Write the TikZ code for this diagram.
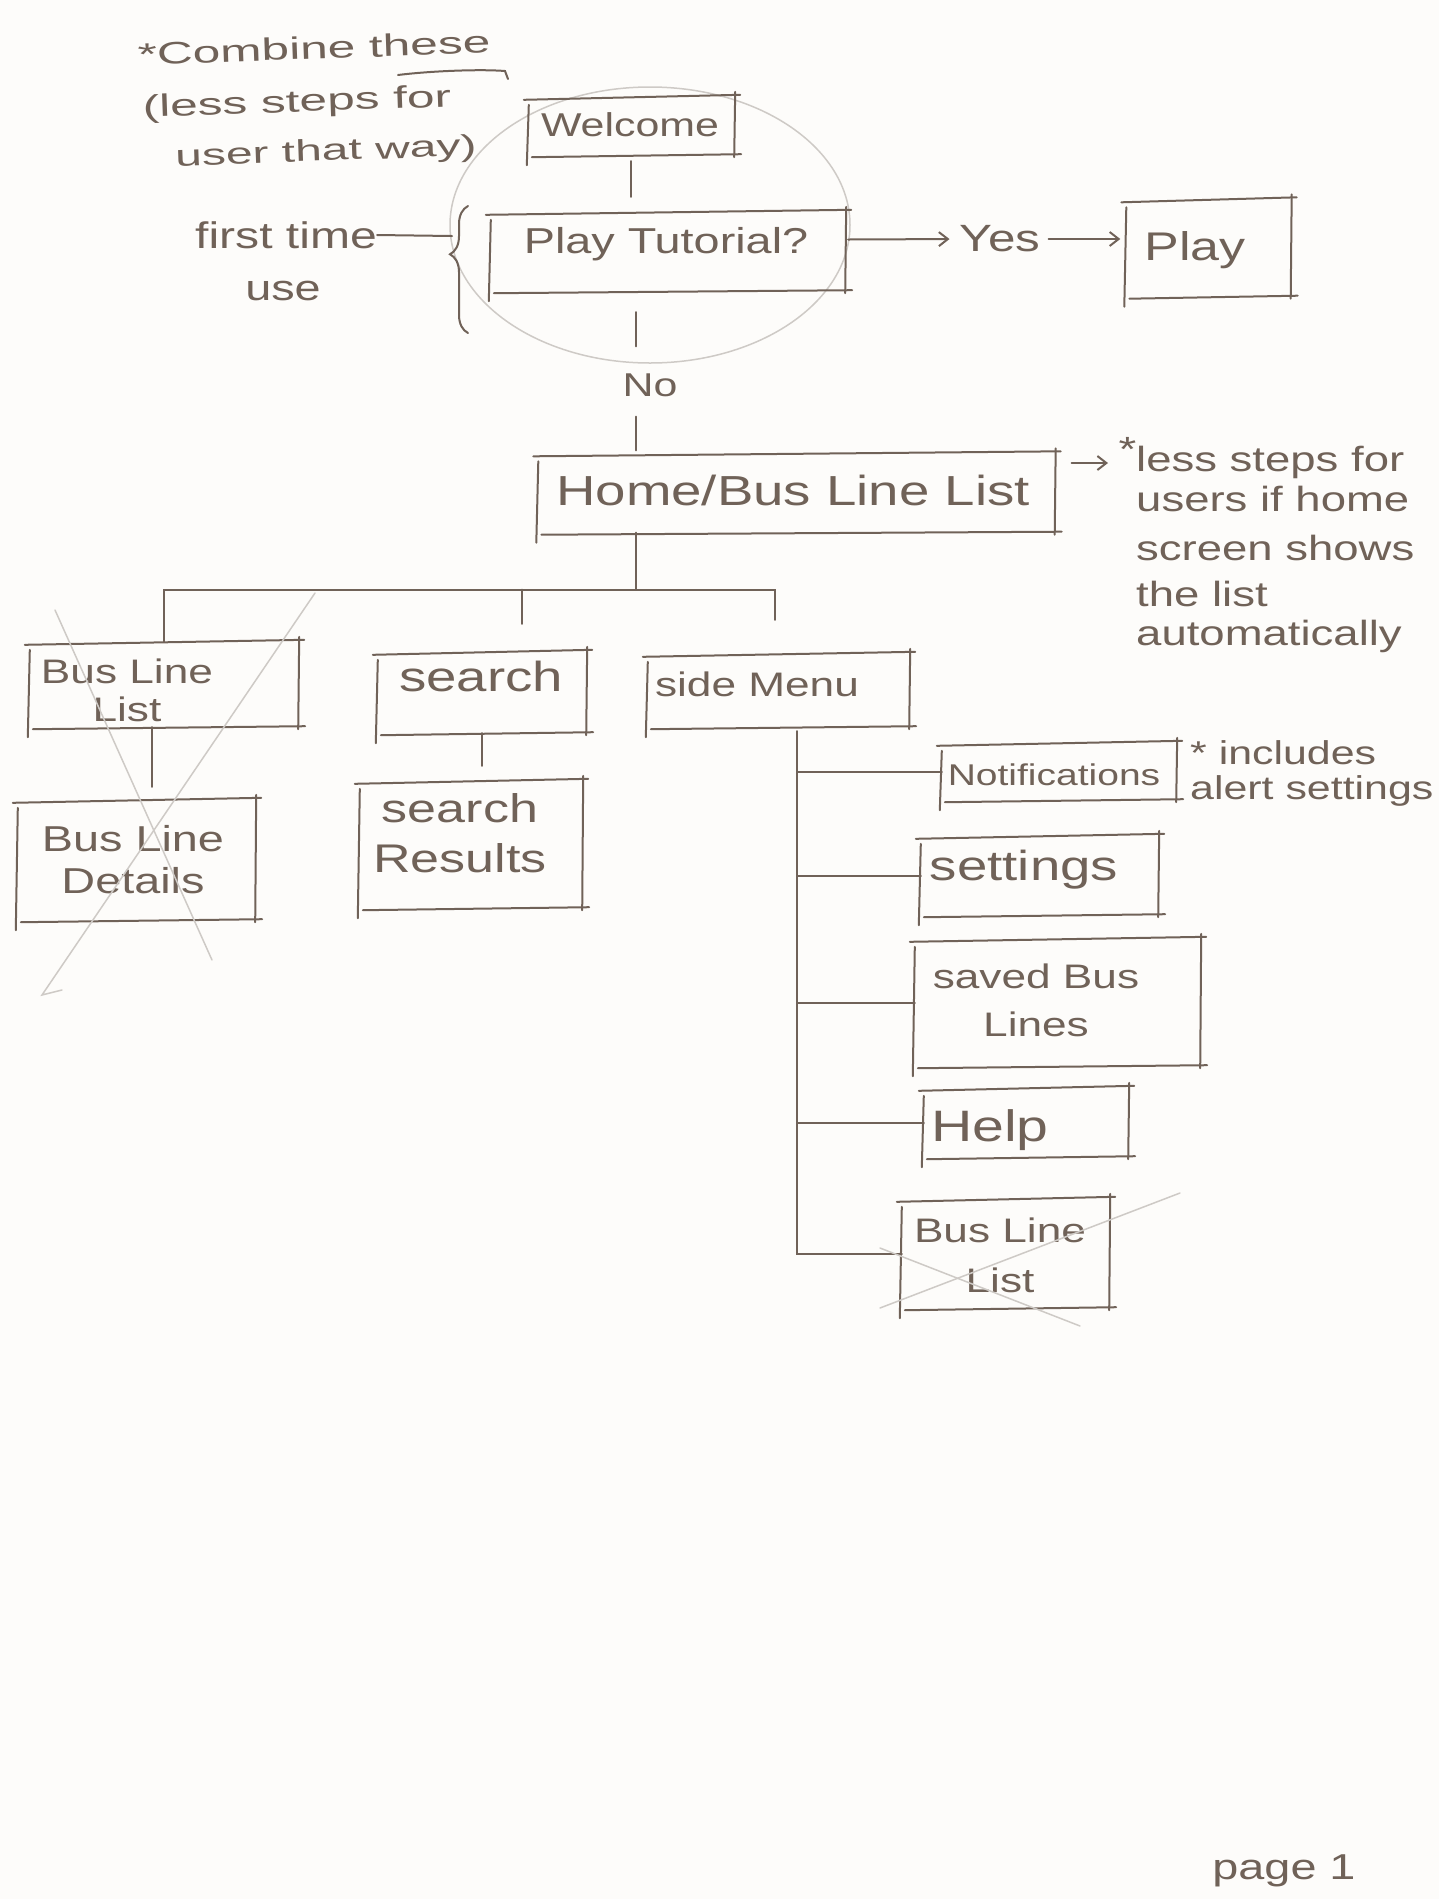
\documentclass[tikz,border=0pt]{standalone}
\usepackage{fontspec}
\newfontfamily\hand{Liberation Sans}[FakeStretch=1.3]
\newfontfamily\handw{Liberation Sans}[FakeStretch=1.6]
\usetikzlibrary{calc,arrows.meta,decorations.pathreplacing}
\definecolor{ink}{RGB}{112,98,88}
\definecolor{faint}{RGB}{206,202,198}
\definecolor{paper}{RGB}{253,252,250}
\tikzset{
  line/.style={draw=ink, line width=2pt, line cap=round},
  faintln/.style={draw=faint, line width=1.5pt, line cap=round},
  txt/.style={text=ink, inner sep=0pt, align=center},
  fz/.style 2 args={font=\hand\fontsize{#1}{#2}\selectfont},
  fzw/.style 2 args={font=\handw\fontsize{#1}{#2}\selectfont},
  boxn/.style={inner sep=0pt, draw=none},
  arr/.style={line, -{Straight Barb[length=9pt,width=14pt]}},
}
\newcommand\mkbox[5]{\node[boxn, minimum width=#4pt, minimum height=#5pt] (#1) at (#2,#3) {};}
\newcommand\skbox[1]{%
  \draw[line] ($(#1.north west)+(-5,3)$) -- ($(#1.north east)+(7,-2)$);
  \draw[line] ($(#1.north east)+(2,-5)$) -- ($(#1.south east)+(1,2)$);
  \draw[line] ($(#1.south west)+(3,2)$) -- ($(#1.south east)+(8,-1)$);
  \draw[line] ($(#1.north west)+(0,8)$) -- ($(#1.south west)+(-2,10)$);
}
\begin{document}
\begin{tikzpicture}[x=1pt,y=-1pt]
\fill[paper] (0,0) rectangle (1439,1899);
\useasboundingbox (0,0) rectangle (1439,1899);

% annotation top-left
\node[txt, fzw={31}{40}, rotate=2] (cmb1) at (314,48) {*Combine these};
\node[txt, fzw={31}{40}, rotate=2] (cmb2) at (297,104) {(less steps for};
\node[txt, fzw={30}{40}, rotate=2] (cmb3) at (326,153) {user that way)};
\draw[line] (398,75) .. controls (430,71) and (480,69) .. (505,71) -- (508,79);
\draw[faintln] (650,225) ellipse [x radius=200, y radius=138];

\node[txt, fz={37}{44}] (ft1) at (286,235) {first time};
\node[txt, fz={36}{44}] (ft2) at (283,291) {use};
\draw[line, decorate, decoration={brace, amplitude=18pt, aspect=0.62}] (468,333) -- (468,206);
\draw[line] (ft1.east) -- (452,236);

% main boxes
\mkbox{welcome}{631}{126}{204}{58}
\mkbox{tut}{667.5}{251.5}{353}{79}
\mkbox{play}{1208}{248}{163}{97}
\mkbox{home}{796}{493}{515}{79}
\mkbox{bll}{163.5}{684.5}{267}{85}
\mkbox{bld}{136}{860}{236}{120}
\mkbox{search}{481.5}{692.5}{207}{81}
\mkbox{sres}{470.5}{844.5}{221}{127}
\mkbox{side}{778}{690.5}{260}{73}
\mkbox{notif}{1058.5}{771.5}{233}{57}
\mkbox{sett}{1039}{875.5}{236}{79}
\mkbox{saved}{1057}{1002.5}{284}{127}
\mkbox{help}{1025.5}{1122.5}{203}{69}
\mkbox{bllb}{1005}{1253.5}{206}{109}
\foreach \b in {welcome,tut,play,home,bll,bld,search,sres,side,notif,sett,saved,help,bllb}{\skbox{\b}}

% texts
\node[txt, fz={33}{40}] (welcomeT) at (630,125) {Welcome};
\node[txt, fz={36}{44}] (tutT) at (666,244) {Play Tutorial?};
\node[txt, fz={38}{44}] (yes) at (1000,239) {Yes};
\node[txt, fz={40}{48}] (playT) at (1195,250) {Play};
\node[txt, fz={33}{40}] (no) at (650,385) {No};
\node[txt, fz={42}{48}] (homeT) at (793,490) {Home/Bus Line List};
\node[txt, fz={34}{38}] (bllT) at (127,690) {Bus Line\\List};
\node[txt, fz={36}{42}] (bldT) at (133,860) {Bus Line\\Details};
\node[txt, fz={42}{48}] (searchT) at (481,676) {search};
\node[txt, fz={40}{50}] (sresT) at (460,833) {search\\Results};
\node[txt, fz={34}{40}] (sideT) at (757,684) {side Menu};
\node[txt, fz={30}{36}] (notifT) at (1054,775) {Notifications};
\node[txt, fz={42}{48}] (settT) at (1024,870) {settings};
\node[txt, fz={34}{48}] (savedT) at (1036,1000) {saved Bus\\Lines};
\node[txt, fz={44}{50}] (helpT) at (990,1130) {Help};
\node[txt, fz={34}{50}] (bllbT) at (1000,1255) {Bus Line\\List};
\node[txt, fz={36}{44}] (page) at (1284,1871) {page 1};

% right notes
\node[txt, fz={35}{44}, anchor=west] (n1) at (1136,458) {\llap{\raisebox{0.5ex}{*}}less steps for};
\node[txt, fz={35}{44}, anchor=west] (n2) at (1136,499) {users if home};
\node[txt, fz={35}{44}, anchor=west] (n3) at (1136,548) {screen shows};
\node[txt, fz={35}{44}, anchor=west] (n4) at (1136,594) {the list};
\node[txt, fz={35}{44}, anchor=west] (n5) at (1136,636) {automatically};
\node[txt, fz={33}{40}, anchor=west] (n6) at (1190,753) {* includes};
\node[txt, fz={33}{40}, anchor=west] (n7) at (1190,791) {alert settings};

% connectors
\draw[line, shorten <=6pt, shorten >=15pt] (welcome.south) -- (welcome.south |- tut.north);
\draw[arr, shorten >=10pt] ([xshift=4pt,yshift=12pt]tut.east) -- (yes.west);
\draw[arr, shorten <=8pt, shorten >=6pt] (yes.east) -- (play.west |- yes.east);
\draw[line, shorten <=21pt, shorten >=27pt] ([xshift=-14pt]tut.south -| no.north) -- ([xshift=-14pt]no.north);
\draw[line, shorten <=20pt, shorten >=3pt] ([xshift=-14pt]no.south) -- ([xshift=-14pt]no.south |- home.north);
\draw[arr] ($(home.east)+(18,-30)$) -- ($(n1.west)+(-28,5)$);

\coordinate (j) at ($(home.south)+(-160,57)$);
\draw[line] (home.south -| j) -- (j);
\draw[line] (bll.north) |- (j) -| ($(side.north)+(-3,-34)$);
\coordinate (sd) at ($(search.north)+(40,0)$);
\draw[line] (sd |- j) -- ($(sd)+(0,-28)$);
\draw[line, shorten >=13pt] ([xshift=-12pt]bll.south) -- ([xshift=-12pt]bll.south |- bld.north);
\draw[line, shorten >=15pt] (search.south) -- (search.south |- sres.north);

\coordinate (spine) at ($(side.south)+(19,4)$);
\draw[line] (spine) |- (bllb.west);
\draw[line] (spine |- notif.west) -- (notif.west);
\draw[line] (spine |- sett.west) -- (sett.west);
\draw[line] (spine |- saved.west) -- (saved.west);
\draw[line] (spine |- help.west) -- (help.west);

% crossings-out
\draw[faintln] (55,610) -- (212,960);
\draw[faintln] (315,593) -- (42,995) -- (62,990);
\draw[faintln] (880,1248) -- (1080,1326);
\draw[faintln] (880,1308) -- (1180,1193);
\end{tikzpicture}
\end{document}
